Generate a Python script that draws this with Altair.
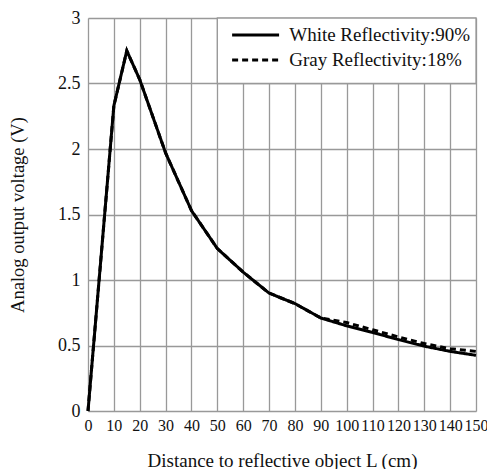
import altair as alt
import pandas as pd

# Distance (cm) and output voltage (V)
distance = [0, 10, 15, 20, 30, 40, 50, 60, 70, 80, 90, 100, 110, 120, 130, 140, 150]
white = [0, 2.33, 2.75, 2.53, 1.97, 1.53, 1.24, 1.06, 0.90, 0.82, 0.71, 0.65, 0.60, 0.545, 0.495, 0.455, 0.425]
gray = [0, 2.33, 2.75, 2.53, 1.97, 1.53, 1.24, 1.06, 0.90, 0.82, 0.71, 0.675, 0.62, 0.565, 0.515, 0.475, 0.455]

series_names = ["White Reflectivity:90%", "Gray Reflectivity:18%"]
x_ticks = list(range(0, 151, 10))
y_ticks = [0, 0.5, 1, 1.5, 2, 2.5, 3]

# Legend box extent (data units)
box_x = [50]
box_x2 = [150]
box_y = [2.5]
box_y2 = [3]

FONT = "Liberation Serif"

df_white = pd.DataFrame({"d": distance, "v": white, "series": series_names[0]})
df_gray = pd.DataFrame({"d": distance, "v": gray, "series": series_names[1]})
df_box = pd.DataFrame({"x": box_x, "x2": box_x2, "y": box_y, "y2": box_y2})

xscale = alt.Scale(domain=[0, 150], nice=False, zero=False)
yscale = alt.Scale(domain=[0, 3], nice=False)

xaxis = alt.Axis(
    values=x_ticks, title="Distance to reflective object L (cm)", grid=True,
    ticks=False, domain=False, labelPadding=6, labelFontSize=16, labelFont=FONT,
    labelColor="#111", titleFont=FONT, titleFontSize=19, titleFontWeight="normal",
    titleColor="#111", titleBaseline="alphabetic", titleY=55,
    gridColor="#999999", gridWidth=1.3, labelFlush=False, labelOverlap=False,
)
yaxis = alt.Axis(
    values=y_ticks, format="~g", title="Analog output voltage (V)", grid=True,
    ticks=False, domain=False, labelPadding=8, labelFontSize=18, labelFont=FONT,
    labelColor="#111", titleFont=FONT, titleFontSize=18.5, titleFontWeight="normal",
    titleColor="#111", titleX=-61, titleY=196.5, titleAngle=-90, titleAlign="center",
    titleBaseline="bottom",
    gridColor="#999999", gridWidth=1.3, labelFlush=False, labelOverlap=False,
)

dash_scale = alt.Scale(domain=series_names, range=[[1, 0], [6, 4]])
legend = alt.Legend(
    title=None, orient="none", legendX=156.6, legendY=6,
    symbolType="M-2.5,0H2.5", symbolSize=353, symbolStrokeWidth=3,
    symbolStrokeColor="black", symbolFillColor="transparent",
    labelFont=FONT, labelFontSize=19, labelColor="#111", labelOffset=22.6,
    labelLimit=400, rowPadding=4, padding=0,
)

box = alt.Chart(df_box).mark_rect(fill="white", stroke="#999999", strokeWidth=1.3).encode(
    x=alt.X("x:Q", scale=xscale, axis=xaxis),
    x2="x2:Q",
    y=alt.Y("y:Q", scale=yscale, axis=yaxis),
    y2="y2:Q",
)

gray_line = alt.Chart(df_gray).mark_line(color="black", strokeWidth=3).encode(
    x=alt.X("d:Q", scale=xscale, axis=xaxis),
    y=alt.Y("v:Q", scale=yscale, axis=yaxis),
    strokeDash=alt.StrokeDash("series:N", scale=dash_scale, legend=legend),
)
white_line = alt.Chart(df_white).mark_line(color="black", strokeWidth=3).encode(
    x=alt.X("d:Q", scale=xscale, axis=xaxis),
    y=alt.Y("v:Q", scale=yscale, axis=yaxis),
    strokeDash=alt.StrokeDash("series:N", scale=dash_scale, legend=legend),
)

chart = alt.layer(box, gray_line, white_line).properties(
    width=388, height=393,
    padding={"left": 80, "top": 10, "right": 11, "bottom": 58},
    autosize="none",
).configure_view(stroke="black", strokeWidth=2).configure(background="white")

chart.save("out.html", embed_options={"renderer": "svg", "actions": False})
